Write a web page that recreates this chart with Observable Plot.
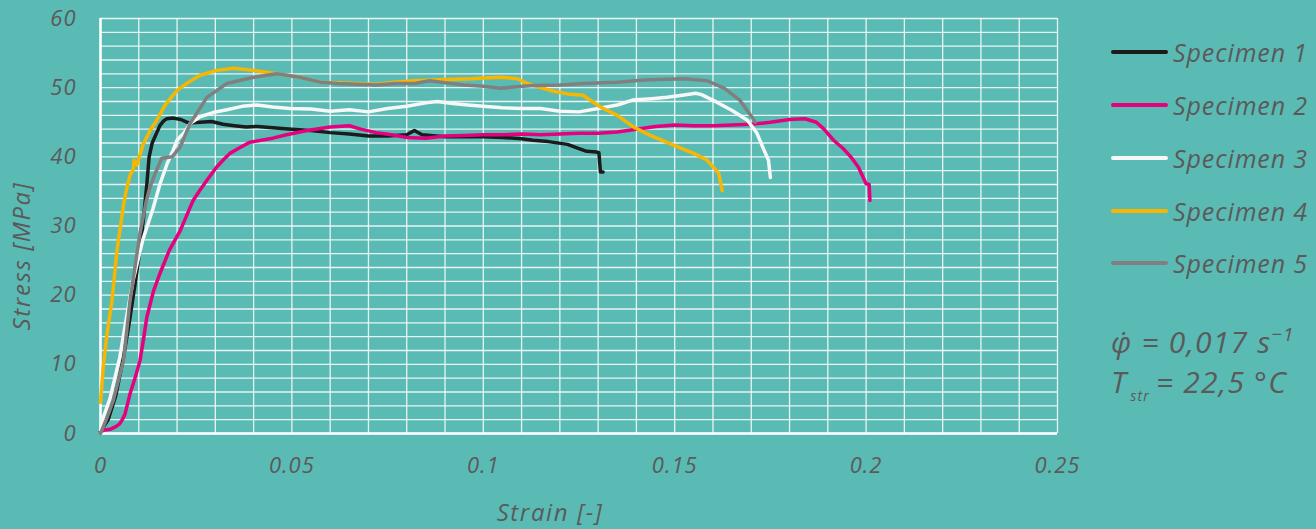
<!DOCTYPE html>
<html>
<head>
<meta charset="utf-8">
<script src="https://cdn.jsdelivr.net/npm/d3@7"></script>
<script src="https://cdn.jsdelivr.net/npm/@observablehq/plot@0.6"></script>
<style>
  html, body { margin: 0; padding: 0; background: #5abbb5; }
  #wrap { position: relative; width: 1316px; height: 529px; overflow: hidden; background: #5abbb5; }
  #chart { position: absolute; left: 0; top: 0; }
  .legend { position: absolute; left: 1111px; top: 0; font-family: "Open Sans", sans-serif; font-style: italic; color: #5a5a5a; font-size: 25px; letter-spacing: 0.9px; }
  .legend .item { position: absolute; left: 0; height: 30px; white-space: nowrap; display: flex; align-items: center; }
  .legend .swatch { width: 57px; height: 4px; border-radius: 2px; margin-right: 5px; }
  .note { position: absolute; left: 1111px; top: 322px; font-family: "Open Sans", sans-serif; font-style: italic; color: #5a5a5a; font-size: 30px; letter-spacing: 1.2px; line-height: 40px; white-space: nowrap; }
  .note sup { font-size: 19px; vertical-align: 12px; line-height: 0; }
  .note sub { font-size: 14px; vertical-align: -8px; line-height: 0; margin-left: 3px; margin-right: 6px; }
</style>
</head>
<body>
<div id="wrap">
  <div id="chart"></div>
  <div class="legend" id="legend"></div>
  <div class="note">
    <div>&#966;&#775; = 0,017 s<sup>&minus;1</sup></div>
    <div>T<sub>str</sub>= 22,5 °C</div>
  </div>
</div>
<script>
const specimens = ["Specimen 1", "Specimen 2", "Specimen 3", "Specimen 4", "Specimen 5"];
const colors = ["#1b1b1b", "#e6007e", "#f7f7f7", "#f8b600", "#808080"];

const xTicks = [0, 0.05, 0.1, 0.15, 0.2, 0.25];
const yTicks = [0, 10, 20, 30, 40, 50, 60];
const xGrid = d3.range(0, 26).map(i => i / 100);
const yGrid = d3.range(0, 31).map(i => i * 2);
const xTitle = ["Strain [-]"];
const yTitle = ["Stress [MPa]"];

const s1Strain = [0, .002, .004, .006, .0075, .009, .0103, .0112, .0121, .0127, .0135, .0147, .0155, .0165, .0173, .019, .021, .023, .026, .029, .032, .035, .038, .041, .045, .05, .055, .06, .065, .07, .075, .08, .082, .084, .09, .095, .1, .105, .11, .113, .117, .122, .125, .127, .1295, .1302, .1306, .1313];
const s1Stress = [0.3, 2, 5.5, 11, 16, 21.5, 26.5, 31, 36, 40, 42, 43.5, 44.5, 45.2, 45.5, 45.6, 45.4, 44.9, 45.0, 45.1, 44.7, 44.5, 44.3, 44.4, 44.2, 44.0, 43.8, 43.5, 43.3, 43.0, 43.0, 43.2, 43.8, 43.2, 42.9, 42.9, 42.9, 42.8, 42.6, 42.4, 42.2, 41.8, 41.2, 40.8, 40.7, 40.6, 37.8, 37.8];

const s2Strain = [0, .001, .0025, .004, .005, .0057, .0064, .0077, .009, .0103, .0112, .0121, .0138, .0155, .018, .0208, .0225, .0242, .026, .0278, .0303, .032, .0338, .036, .039, .045, .0486, .054, .06, .065, .068, .072, .076, .08, .085, .09, .095, .1, .105, .11, .115, .12, .125, .13, .135, .14, .145, .15, .155, .16, .165, .17, .175, .18, .184, .187, .189, .1915, .194, .196, .198, .2, .2008, .201];
const s2Stress = [0.3, 0.5, 0.6, 1.0, 1.4, 2.0, 2.8, 5.7, 8, 10.5, 13.5, 16.8, 20.5, 23.1, 26.5, 29.3, 31.5, 33.7, 35.2, 36.6, 38.5, 39.5, 40.5, 41.2, 42.1, 42.7, 43.2, 43.8, 44.3, 44.5, 44.0, 43.5, 43.2, 42.8, 42.7, 43.0, 43.1, 43.2, 43.2, 43.3, 43.2, 43.3, 43.4, 43.4, 43.6, 44.0, 44.4, 44.6, 44.5, 44.5, 44.6, 44.7, 45.0, 45.4, 45.5, 45.0, 44.0, 42.4, 41.2, 40.0, 38.5, 36.1, 36.0, 33.7];

const s3Strain = [0, .0004, .0025, .005, .0068, .0085, .011, .0137, .0155, .0174, .019, .02, .022, .0234, .026, .0294, .033, .037, .0409, .045, .0495, .055, .06, .065, .07, .075, .08, .085, .088, .092, .096, .1, .105, .11, .115, .12, .125, .13, .135, .139, .144, .148, .152, .1555, .157, .161, .165, .169, .1715, .173, .1745, .175];
const s3Stress = [0.5, 1.8, 5.1, 10.9, 16.8, 22.1, 27.9, 32.5, 36.0, 39.0, 41.0, 42.4, 43.6, 44.8, 45.8, 46.4, 46.8, 47.3, 47.5, 47.2, 47.0, 46.9, 46.6, 46.8, 46.5, 47.0, 47.3, 47.8, 48.0, 47.7, 47.5, 47.3, 47.1, 47.0, 47.0, 46.6, 46.5, 47.0, 47.5, 48.2, 48.4, 48.6, 48.9, 49.2, 49.0, 47.9, 46.7, 45.3, 43.4, 41.4, 39.5, 37.0];

const s4Strain = [0, .0007, .0017, .003, .0043, .006, .0069, .0078, .0085, .0088, .0095, .0112, .013, .0147, .017, .02, .023, .026, .0304, .0347, .04, .046, .052, .0574, .062, .067, .072, .077, .082, .087, .092, .097, .1, .105, .109, .1114, .1175, .122, .126, .1306, .135, .1393, .1436, .1497, .155, .1585, .1615, .1624];
const s4Stress = [4.5, 9.5, 14.4, 19.2, 26.4, 33.0, 35.6, 37.5, 38.0, 39.5, 38.8, 41.9, 43.8, 45.3, 47.6, 49.6, 50.8, 51.8, 52.5, 52.8, 52.5, 52.0, 51.5, 50.8, 50.7, 50.6, 50.5, 50.8, 51.0, 51.1, 51.2, 51.3, 51.4, 51.5, 51.3, 50.6, 49.6, 49.1, 48.9, 47.2, 46.0, 44.3, 43.1, 41.7, 40.5, 39.5, 37.6, 35.1];

const s5Strain = [0, .0015, .0033, .006, .0077, .0103, .012, .0129, .0142, .016, .0187, .0208, .0234, .0278, .033, .04, .046, .052, .0574, .062, .067, .072, .077, .082, .086, .09, .095, .1, .1045, .108, .113, .12, .126, .135, .142, .1524, .1585, .163, .167, .1705, .171];
const s5Stress = [0, 2, 4.7, 10.5, 19.2, 28.9, 33.7, 35.6, 37.5, 39.8, 40.0, 41.4, 44.8, 48.6, 50.6, 51.5, 52.0, 51.5, 50.8, 50.6, 50.5, 50.4, 50.6, 50.6, 51.0, 50.7, 50.4, 50.2, 49.9, 50.1, 50.3, 50.4, 50.6, 50.8, 51.1, 51.3, 51.0, 49.9, 48.2, 45.5, 45.0];

const series = [[s1Strain, s1Stress], [s2Strain, s2Stress], [s3Strain, s3Stress], [s4Strain, s4Stress], [s5Strain, s5Stress]];
const rows = [];
series.forEach(([xs, ys], i) => xs.forEach((x, j) => rows.push({specimen: specimens[i], strain: x, stress: ys[j]})));

const chart = Plot.plot({
  width: 1316,
  height: 529,
  marginLeft: 100,
  marginRight: 259,
  marginTop: 18,
  marginBottom: 96,
  x: {domain: [0, 0.25]},
  y: {domain: [0, 60]},
  color: {domain: specimens, range: colors},
  style: {background: "transparent", fontFamily: "'Open Sans', sans-serif", fontStyle: "italic", fontSize: "22px", letterSpacing: "1px", color: "#5a5a5a", overflow: "visible"},
  marks: [
    Plot.gridX(xGrid, {stroke: "white", strokeOpacity: 0.85, strokeWidth: 1.3}),
    Plot.gridY(yGrid, {stroke: "white", strokeOpacity: 0.85, strokeWidth: 1.3}),
    Plot.ruleX([0], {stroke: "white", strokeWidth: 2.5}),
    Plot.ruleY([0], {stroke: "white", strokeWidth: 2.5}),
    Plot.axisX(xTicks, {tickSize: 0, tickPadding: 24, tickFormat: d => String(d), label: null, fontSize: 22}),
    Plot.axisY(yTicks, {tickSize: 0, tickPadding: 24, tickFormat: d => String(d), label: null, fontSize: 22}),
    Plot.text(xTitle, {frameAnchor: "bottom", textAnchor: "middle", dx: -29, dy: 87, fontSize: 24, fill: "#5a5a5a"}),
    Plot.text(yTitle, {frameAnchor: "left", textAnchor: "middle", dx: -78, dy: 30, rotate: -90, fontSize: 24, fill: "#5a5a5a"}),
    Plot.line(rows, {x: "strain", y: "stress", z: "specimen", stroke: "specimen", strokeWidth: 3.5, strokeLinejoin: "round", strokeLinecap: "round"})
  ]
});
chart.querySelectorAll("text").forEach(t => { if (t.textContent === "Stress [MPa]" || t.textContent === "Strain [-]") t.style.letterSpacing = "1.6px"; });
document.getElementById("chart").appendChild(chart);

const legend = document.getElementById("legend");
const legendTops = [52, 105, 158, 211, 263];
specimens.forEach((s, i) => {
  const item = document.createElement("div");
  item.className = "item";
  item.style.top = (legendTops[i] - 15) + "px";
  const sw = document.createElement("div");
  sw.className = "swatch";
  sw.style.background = colors[i];
  const t = document.createElement("span");
  t.textContent = s;
  item.appendChild(sw);
  item.appendChild(t);
  legend.appendChild(item);
});
</script>
</body>
</html>
